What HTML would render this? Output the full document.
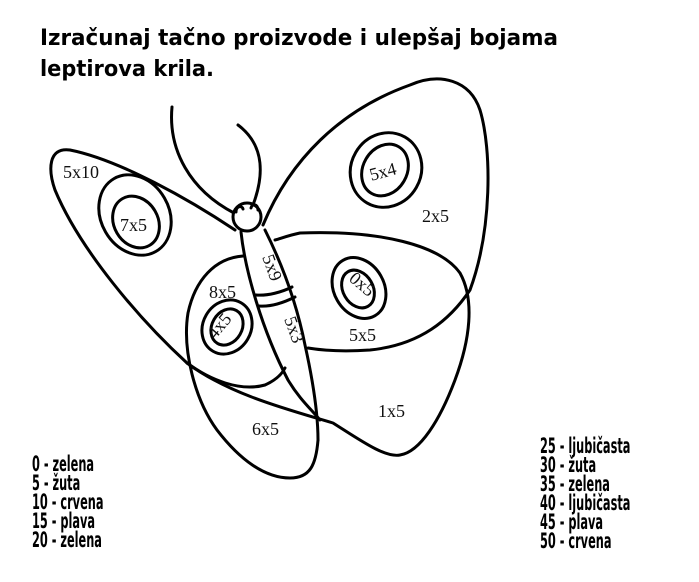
<!DOCTYPE html>
<html><head><meta charset="utf-8"><style>
html,body{margin:0;padding:0;background:#fff;}
svg{display:block;}
.t{font-family:"Liberation Serif",serif;font-size:18px;fill:#111;}
.b{font-family:"DejaVu Sans","Liberation Sans",sans-serif;font-weight:bold;fill:#000;}
.leg{position:absolute;font-family:"DejaVu Sans Condensed","DejaVu Sans",sans-serif;font-weight:bold;font-size:21px;line-height:19px;color:#000;transform:scaleX(0.6);transform-origin:0 0;white-space:nowrap;}
</style></head><body>
<div style="position:relative;width:699px;height:582px;">
<svg width="699" height="582" viewBox="0 0 699 582" xmlns="http://www.w3.org/2000/svg">
<text class="b" x="40" y="45" font-size="22" textLength="518" lengthAdjust="spacingAndGlyphs">Izračunaj tačno proizvode i ulepšaj bojama</text>
<text class="b" x="40" y="76" font-size="22" textLength="174" lengthAdjust="spacingAndGlyphs">leptirova krila.</text>
<g fill="none" stroke="#000" stroke-width="3" stroke-linecap="round" stroke-linejoin="round">
<path d="M172,107 C168,150 190,190 234,213"/>
<path d="M238,125 C258,140 268,165 253,205"/>
<path d="M263,225 C290,160 340,110 410,85 C440,72 470,80 480,110 C492,150 492,230 470,290 C450,320 420,345 370,350 C340,352 320,350 308,348"/>
<path d="M235,230 C190,200 120,160 70,150 C48,147 48,170 55,190 C80,250 140,320 187,363 C230,395 290,410 333,423 C360,440 385,458 400,455 C420,452 440,420 455,380 C470,340 475,300 460,273 C440,245 380,230 300,233 C290,235 282,238 275,240"/>
<path d="M243,256 C215,258 195,280 188,313 C182,350 195,400 217,430 C240,460 265,478 290,478 C310,478 316,465 318,440"/>
<path d="M187,363 C210,380 240,392 265,385 C276,380 282,374 285,368"/>
<path d="M241,232 C245,270 262,330 288,380 C300,400 312,410 320,420"/>
<path d="M265,230 C280,260 296,300 305,345 C315,390 318,420 318,440"/>
<path d="M256,295 C268,296 282,292 292,287"/>
<path d="M259,306 C272,307 285,302 295,297"/>
<circle cx="247" cy="217" r="14" fill="#fff"/>
<path d="M236,212 C236,206 242,205 243,209"/>
<path d="M251,208 C252,203 258,204 258,210"/>
<ellipse cx="135" cy="215" rx="34" ry="42" transform="rotate(-30 135 215)"/>
<ellipse cx="136" cy="222" rx="22" ry="27" transform="rotate(-30 136 222)"/>
<ellipse cx="227" cy="327" rx="24" ry="28" transform="rotate(30 227 327)"/>
<ellipse cx="227" cy="327" rx="15" ry="19" transform="rotate(30 227 327)"/>
<ellipse cx="386" cy="170" rx="35" ry="38" transform="rotate(30 386 170)"/>
<ellipse cx="385" cy="170" rx="22" ry="27" transform="rotate(30 385 170)"/>
<ellipse cx="359" cy="288" rx="25" ry="32" transform="rotate(-30 359 288)"/>
<ellipse cx="358" cy="289" rx="15" ry="20" transform="rotate(-30 358 289)"/>
</g>
<text class="t" x="63" y="178">5x10</text>
<text class="t" x="120" y="231">7x5</text>
<text class="t" x="209" y="298">8x5</text>
<text class="t" x="0" y="0" transform="translate(215,340) rotate(-50)" font-size="16">4x5</text>
<text class="t" x="0" y="0" transform="translate(262,257) rotate(70)">5x9</text>
<text class="t" x="0" y="0" transform="translate(284,319) rotate(70)">5x3</text>
<text class="t" x="252" y="435">6x5</text>
<text class="t" x="369" y="177" transform="rotate(-15 385 170)">5x4</text>
<text class="t" x="422" y="222">2x5</text>
<text class="t" x="0" y="0" transform="translate(348,280) rotate(40)" font-size="16">0x5</text>
<text class="t" x="349" y="341">5x5</text>
<text class="t" x="378" y="417">1x5</text>
</svg>
<div class="leg" style="left:32px;top:455px;">0 - zelena<br>5 - žuta<br>10 - crvena<br>15 - plava<br>20 - zelena</div>
<div class="leg" style="left:540px;top:437px;">25 - ljubičasta<br>30 - žuta<br>35 - zelena<br>40 - ljubičasta<br>45 - plava<br>50 - crvena</div>
</div>
</body></html>
